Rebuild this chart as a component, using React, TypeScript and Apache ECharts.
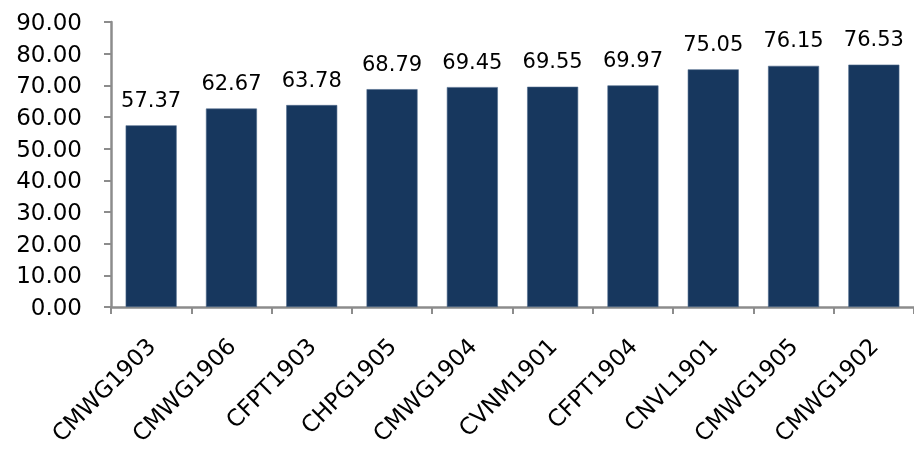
import React, { useEffect, useRef } from "react";
import * as echarts from "echarts";

const categories = [
  "CMWG1903",
  "CMWG1906",
  "CFPT1903",
  "CHPG1905",
  "CMWG1904",
  "CVNM1901",
  "CFPT1904",
  "CNVL1901",
  "CMWG1905",
  "CMWG1902",
];
const values = [57.37, 62.67, 63.78, 68.79, 69.45, 69.55, 69.97, 75.05, 76.15, 76.53];

export default function App() {
  const ref = useRef<HTMLDivElement>(null);
  useEffect(() => {
    if (!ref.current) return;
    const chart = echarts.init(ref.current, null, { renderer: "svg" });
    const axisColor = "#8c8c8c";
    const font = "DejaVu Sans";
    chart.setOption({
      animation: false,
      textStyle: { fontFamily: font },
      grid: {
        left: 111,
        right: 0,
        top: 22,
        bottom: 142,
        containLabel: false,
        outerBoundsMode: "none",
      },
      xAxis: {
        type: "category",
        data: categories,
        axisLine: { show: true, lineStyle: { color: axisColor, width: 2.5 } },
        axisTick: { show: true, length: 7, lineStyle: { color: axisColor, width: 2 } },
        axisLabel: {
          rotate: 45,
          interval: 0,
          margin: 35,
          color: "#000",
          fontSize: 23,
          fontFamily: font,
        },
        splitLine: { show: false },
      },
      yAxis: {
        type: "value",
        min: 0,
        max: 90,
        interval: 10,
        axisLine: { show: true, lineStyle: { color: axisColor, width: 2.5 } },
        axisTick: { show: true, length: 7, lineStyle: { color: axisColor, width: 2 } },
        axisLabel: {
          margin: 29,
          color: "#000",
          fontSize: 23,
          fontFamily: font,
          formatter: (v: number) => v.toFixed(2),
        },
        splitLine: { show: false },
      },
      series: [
        {
          type: "bar",
          data: values,
          barWidth: 51,
          itemStyle: { color: "#17375e", borderColor: "#4f6a8c", borderWidth: 0.6 },
          label: {
            show: true,
            position: "top",
            distance: 15,
            color: "#000",
            fontSize: 21,
            fontFamily: font,
            formatter: (p: any) => Number(p.value).toFixed(2),
          },
        },
      ],
    });
    return () => chart.dispose();
  }, []);
  return (
    <div
      ref={ref}
      style={{ position: "fixed", left: 0, top: 0, width: 914, height: 449 }}
    />
  );
}
